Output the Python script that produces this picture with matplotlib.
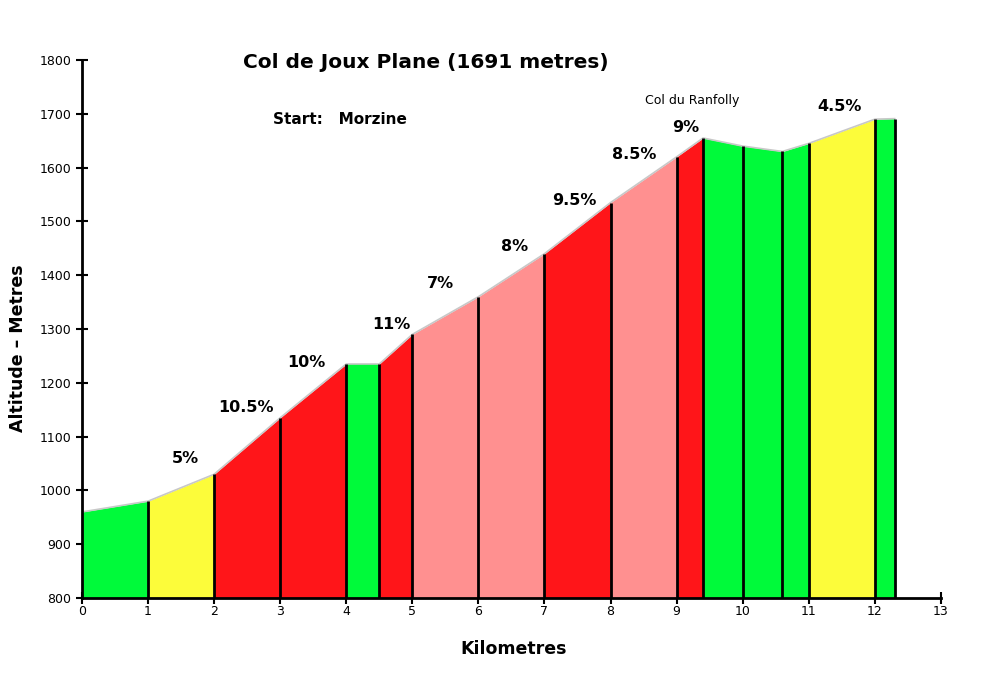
import matplotlib
matplotlib.use("Agg")
import matplotlib.pyplot as plt

km = [0, 1, 2, 3, 4, 4.5, 5, 6, 7, 8, 9, 9.4, 10, 10.6, 11, 12, 12.3]
alt = [960, 980, 1030, 1135, 1235, 1235, 1290, 1360, 1440, 1535, 1620, 1655, 1640, 1630, 1645, 1690, 1691]
seg_class = ["g", "y", "r", "r", "g", "r", "p", "p", "r", "p", "r", "g", "g", "g", "y", "g"]
colors = {"g": "#00fa3a", "y": "#fcfc3a", "r": "#ff1519", "p": "#ff9090"}

grade_labels = ["5%", "10.5%", "10%", "11%", "7%", "8%", "9.5%", "8.5%", "9%", "4.5%"]
grade_x = [1.57, 2.48, 3.39, 4.68, 5.43, 6.54, 7.45, 8.35, 9.14, 11.47]
grade_y = [1060, 1155, 1237, 1309, 1385, 1454, 1538, 1625, 1674, 1713]

title = "Col de Joux Plane (1691 metres)"
start_text = "Start:   Morzine"
pass_label = "Col du Ranfolly"

fig = plt.figure(figsize=(10.01, 6.78), dpi=100)
ax = fig.add_axes([0.0819, 0.118, 0.8581, 0.7935])
ax.set_xlim(0, 13)
ax.set_ylim(800, 1800)

for i, c in enumerate(seg_class):
    ax.fill_between([km[i], km[i + 1]], [alt[i], alt[i + 1]], 800,
                    color=colors[c], linewidth=0, zorder=2)
ax.plot(km, alt, color="#c8c8c8", linewidth=1.2, zorder=3)
ax.vlines(km[1:], 800, alt[1:], color="black", linewidth=2, zorder=4)

for s in ["top", "right"]:
    ax.spines[s].set_visible(False)
for s in ["left", "bottom"]:
    ax.spines[s].set_linewidth(2)
    ax.spines[s].set_zorder(5)

ax.set_xticks(range(0, 14))
ax.set_yticks(range(800, 1801, 100))
ax.tick_params(axis="both", direction="inout", length=8, width=1.5, labelsize=9)
ax.tick_params(axis="x", pad=1)

for lab, x, y in zip(grade_labels, grade_x, grade_y):
    ax.text(x, y, lab, ha="center", va="center", fontsize=11.5, fontweight="bold", zorder=6)

ax.text(9.23, 1724, pass_label, ha="center", va="center", fontsize=9)
ax.text(2.89, 1690, start_text, ha="left", va="center", fontsize=11, fontweight="bold")
ax.text(5.2, 1796, title, ha="center", va="center", fontsize=14.5, fontweight="bold", clip_on=False)

fig.text(0.018, 0.487, "Altitude \u2013 Metres", rotation=90, ha="center", va="center",
         fontsize=12.5, fontweight="bold")
fig.text(0.513, 0.043, "Kilometres", ha="center", va="center", fontsize=12.5, fontweight="bold")

fig.savefig("out.png", dpi=100)
